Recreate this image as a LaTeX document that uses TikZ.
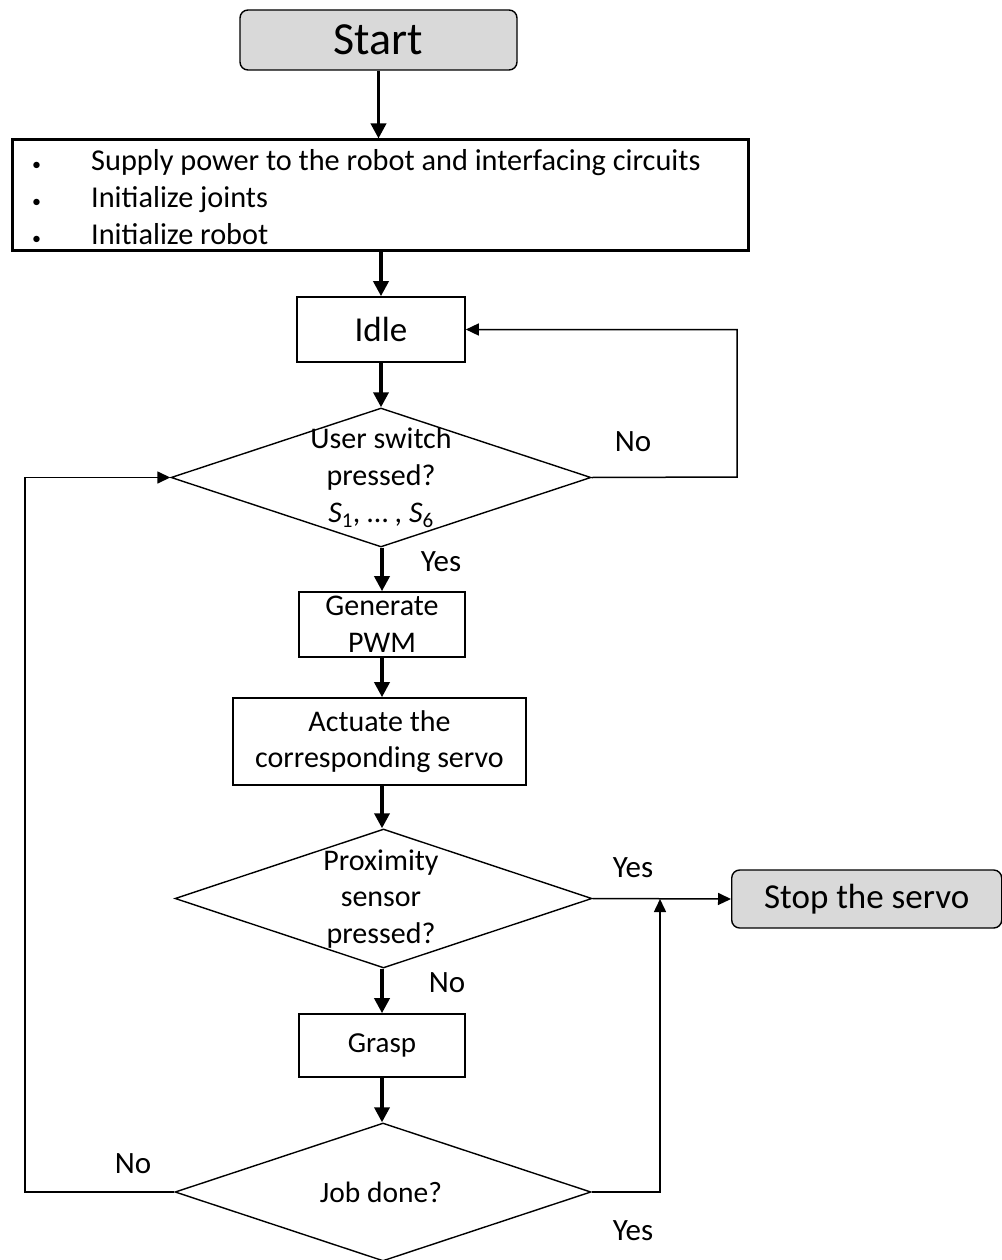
\documentclass[tikz,border=0pt]{standalone}
\usepackage{fontspec}
\setmainfont{Carlito}
\usetikzlibrary{shapes.geometric,arrows.meta}
\definecolor{termgray}{RGB}{217,217,217}
\newcommand\smallbul{\makebox[59pt][l]{\fontsize{18}{18}\selectfont\textbullet}}
\begin{document}
\begin{tikzpicture}[x=1pt,y=-1pt,
  fs/.style={font=\fontsize{#1}{\fpeval{#1*1.22}}\selectfont},
  procbox/.style={draw, line width=1.6pt, inner sep=0pt, align=center, fs=30},
  termbox/.style={draw, line width=1.4pt, rounded corners=8pt, fill=termgray, inner sep=0pt, align=center},
  decision/.style={draw, diamond, line width=1.4pt, inner sep=0pt},
  dtext/.style={align=center, inner sep=0pt, fs=30},
  lbl/.style={inner sep=0pt, fs=31},
  thickarrow/.style={line width=3.5pt, -{Triangle[length=15pt,width=15pt]}},
  thinarrow/.style={line width=1.5pt, -{Triangle[length=13pt,width=12pt]}}
]
\useasboundingbox (0,0) rectangle (1001,1260);

% nodes
\node[termbox, minimum width=277pt, minimum height=60pt, fs=46] (start) at (378.5,40) {Start};
\node[draw, line width=3pt, minimum width=736pt, minimum height=110pt, inner sep=0pt] (init) at (380,195) {};
\node[anchor=west, align=left, inner sep=0pt, font=\fontsize{30.3}{37}\selectfont] (inittext) at (32,197)
  {\smallbul Supply power to the robot and interfacing circuits\\
   \smallbul Initialize joints\\
   \smallbul Initialize robot};
\node[procbox, minimum width=168pt, minimum height=65pt, fs=35] (idle) at (381,329.5) {Idle};
\node[decision, minimum width=420pt, minimum height=139pt] (d1) at (381,477.5) {};
\node[dtext] (d1t) at (381,478) {User switch\\pressed?\\\textit{S}\textsubscript{1}, … , \textit{S}\textsubscript{6}};
\node[procbox, minimum width=166pt, minimum height=65pt] (gen) at (382,624.5) {Generate\\PWM};
\node[procbox, minimum width=293pt, minimum height=87pt] (act) at (379.5,741.5) {Actuate the\\corresponding servo};
\node[decision, minimum width=417pt, minimum height=139pt] (d2) at (383.5,898.5) {};
\node[dtext] (d2t) at (381,899) {Proximity\\sensor\\pressed?};
\node[termbox, minimum width=270pt, minimum height=58pt, fs=35, anchor=west] (stop) at (731,899) {Stop the servo};
\node[procbox, minimum width=166pt, minimum height=63pt, fs=29] (grasp) at (382,1045.5) {Grasp};
\node[decision, minimum width=416pt, minimum height=138pt] (d3) at (383,1192) {};
\node[dtext, fs=29.5] (d3t) at (381,1192) {Job done?};

\coordinate (loopR) at (737,477);
\coordinate (loopL) at (25,1192);
\coordinate (joinY) at (660,899);

% labels
\node[lbl] (no1) at (633,442) {No};
\node[lbl] (yes1) at (441,562) {Yes};
\node[lbl] (yes2) at (633,868) {Yes};
\node[lbl] (no2) at (447,983) {No};
\node[lbl] (no3) at (133,1164) {No};
\node[lbl] (yes3) at (633,1231) {Yes};

% connectors
\draw[thickarrow] (start.south) -- (start.south |- init.north);
\draw[thickarrow] (idle.north |- init.south) -- (idle.north);
\draw[thickarrow] (idle.south) -- (idle.south |- d1.north);
\draw[thickarrow] (d1.south -| gen.north) -- (gen.north);
\draw[thickarrow] (gen.south) -- (gen.south |- act.north);
\draw[thickarrow] (gen.south |- act.south) -- (gen.south |- d2.north);
\draw[thickarrow] (grasp.north |- d2.south) -- (grasp.north);
\draw[thickarrow] (grasp.south) -- (grasp.south |- d3.north);

\draw[thinarrow] (d1.east) -- (loopR) |- (idle.east);
\draw[thinarrow] (d2.east) -- (stop.west);
\draw[thinarrow] (d3.east) -| (joinY);
\draw[thinarrow] (d3.west) -- (loopL) |- (d1.west);
\end{tikzpicture}
\end{document}
